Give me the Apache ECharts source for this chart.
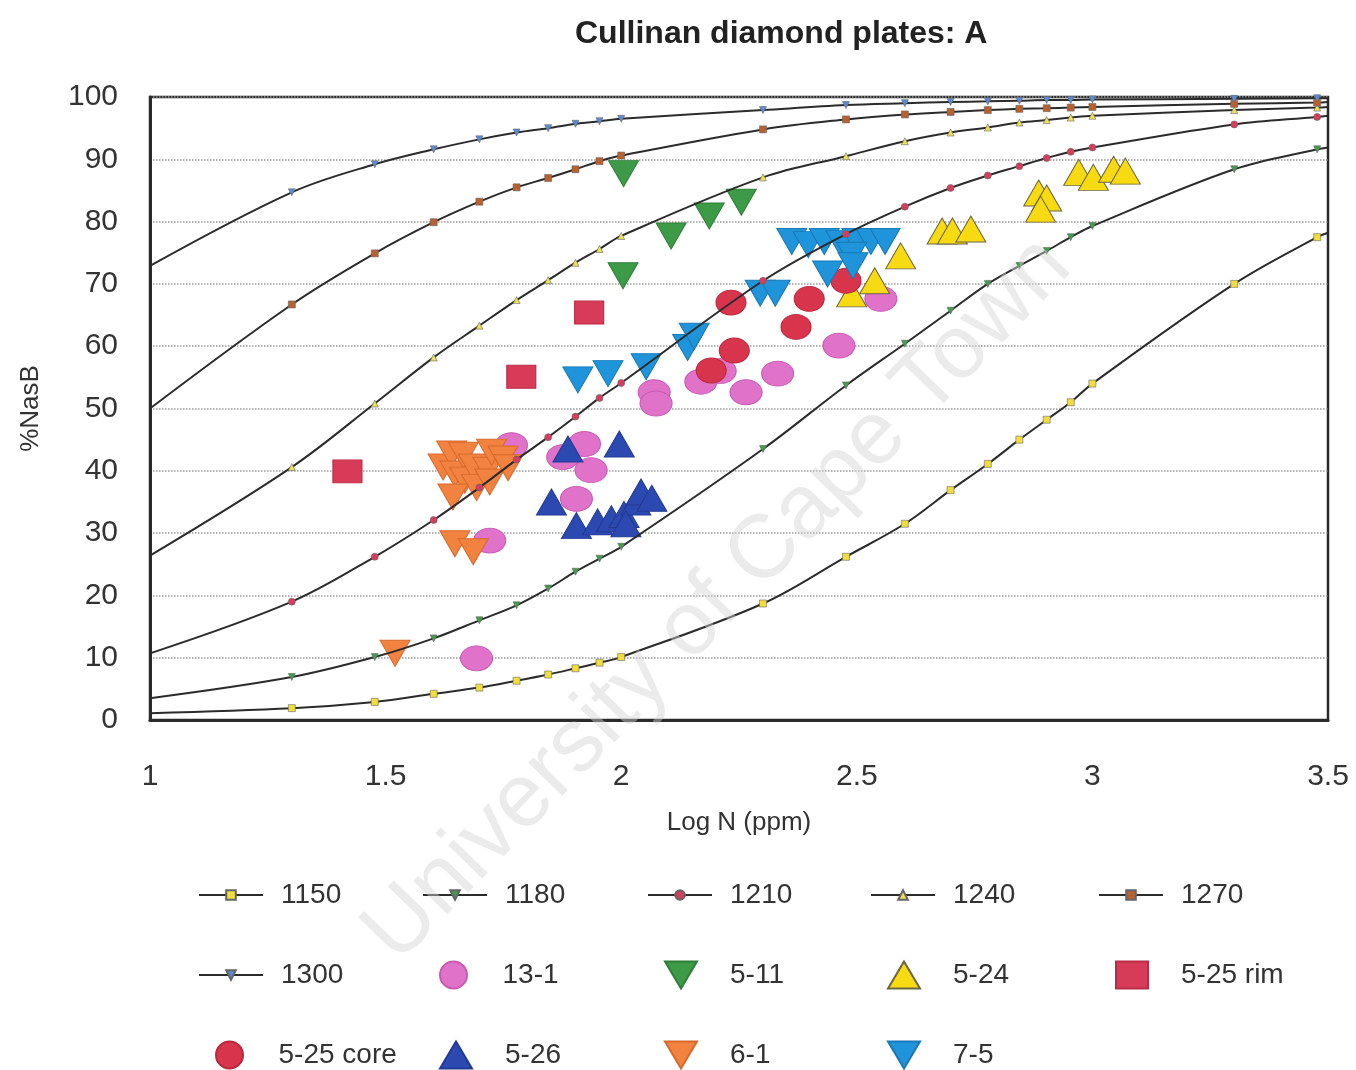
<!DOCTYPE html>
<html>
<head>
<meta charset="utf-8">
<title>Cullinan diamond plates: A</title>
<script src="https://cdn.jsdelivr.net/npm/echarts@6/dist/echarts.min.js"></script>
<style>
  html, body { margin: 0; padding: 0; background: #fff; }
  #chart { width: 1356px; height: 1070px; }
</style>
</head>
<body>
<div id="chart"></div>
<script>
// Log N (ppm) positions of the model points (N = 10, 20 ... 100, 200 ... 1000, 2000, 3000, end of axis)
const logN = [1, 1.301, 1.477, 1.602, 1.699, 1.778, 1.845, 1.903, 1.954, 2,
              2.301, 2.477, 2.602, 2.699, 2.778, 2.845, 2.903, 2.954, 3, 3.301, 3.477, 3.5];

// %NaB model curves for each temperature
const curve1150 = [1.1, 1.9, 2.9, 4.2, 5.2, 6.3, 7.3, 8.3, 9.2, 10.1, 18.7, 26.2, 31.5, 36.9, 41.1, 45.0, 48.2, 51.0, 54.0, 70.0, 77.5, 78.2];
const curve1180 = [3.5, 6.9, 10.1, 13.1, 16.0, 18.4, 21.1, 23.8, 25.9, 27.8, 43.5, 53.7, 60.4, 65.7, 70.0, 72.9, 75.3, 77.5, 79.3, 88.4, 91.6, 91.9];
const curve1210 = [10.7, 19.0, 26.2, 32.1, 37.3, 41.8, 45.4, 48.7, 51.7, 54.1, 70.5, 78.0, 82.4, 85.4, 87.4, 88.9, 90.2, 91.2, 91.9, 95.6, 96.8, 97.0];
const curve1240 = [26.4, 40.6, 50.8, 58.2, 63.3, 67.4, 70.6, 73.4, 75.6, 77.7, 87.1, 90.5, 92.9, 94.3, 95.1, 95.9, 96.3, 96.7, 97.0, 97.9, 98.3, 98.4];
const curve1270 = [50.0, 66.7, 74.9, 79.9, 83.2, 85.5, 87.0, 88.4, 89.7, 90.6, 94.8, 96.4, 97.2, 97.6, 97.9, 98.1, 98.2, 98.3, 98.4, 98.9, 99.1, 99.2];
const curve1300 = [72.9, 84.7, 89.2, 91.6, 93.2, 94.3, 95.0, 95.7, 96.1, 96.5, 97.9, 98.7, 99.0, 99.2, 99.3, 99.4, 99.5, 99.5, 99.6, 99.7, 99.8, 99.8];

// Measured plates: [Log N, %NaB]
const plate13_1 = [[1.693, 9.9], [1.721, 28.8], [1.767, 44.1], [1.876, 42.2], [1.922, 44.3], [1.936, 40.1],
                   [1.905, 35.5], [2.070, 52.6], [2.074, 50.8], [2.169, 54.3], [2.210, 56.0], [2.265, 52.6],
                   [2.332, 55.6], [2.462, 60.1], [2.551, 67.6]];
const plate5_11 = [[2.005, 87.7], [2.106, 77.7], [2.187, 80.9], [2.255, 83.1], [2.004, 71.3]];
const plate5_24 = [[2.489, 68.4], [2.538, 70.5], [2.593, 74.5], [2.681, 78.5], [2.703, 78.5], [2.742, 78.8],
                   [2.886, 84.6], [2.903, 83.8], [2.890, 82.0], [2.971, 87.9], [3.002, 87.1], [3.045, 88.4],
                   [3.070, 88.1]];
const plate5_25rim = [[1.419, 39.9], [1.788, 55.1], [1.932, 65.4]];
const plate5_25core = [[2.233, 67.0], [2.399, 67.6], [2.371, 63.1], [2.240, 59.3], [2.191, 56.1], [2.477, 70.5]];
const plate5_26 = [[1.887, 43.5], [1.996, 44.3], [1.852, 35.0], [1.905, 31.2], [1.950, 31.8], [1.979, 32.3],
                   [2.006, 33.0], [2.031, 35.0], [2.042, 36.6], [2.065, 35.6], [2.010, 31.5]];
const plate6_1 = [[1.622, 40.6], [1.640, 42.7], [1.647, 39.5], [1.665, 42.5], [1.668, 38.5], [1.686, 40.6],
                  [1.693, 37.3], [1.717, 40.1], [1.721, 38.2], [1.725, 43.0], [1.749, 41.9], [1.760, 40.5],
                  [1.643, 35.8], [1.647, 28.3], [1.686, 27.0], [1.520, 10.7]];
const plate7_5 = [[1.908, 54.6], [1.972, 55.6], [2.053, 56.7], [2.141, 59.8], [2.155, 61.6], [2.295, 68.5],
                  [2.327, 68.5], [2.362, 76.8], [2.397, 76.3], [2.431, 76.8], [2.466, 76.5], [2.500, 76.8],
                  [2.530, 76.8], [2.560, 76.8], [2.489, 74.6], [2.492, 72.9], [2.438, 71.6]];

const xTicks = { min: 1, max: 3.5, interval: 0.5 };
const yTicks = { min: 0, max: 100, interval: 10 };

const FONT = '"Liberation Sans", Arial, sans-serif';
const DOWN_TRIANGLE = 'path://M0,0 L20,0 L10,18 Z';

// Model curve series: small coloured markers at each modelled N, none at the axis ends
function curveSeries(name, values, symbol, rotate, color) {
  const last = logN.length - 1;
  return {
    name: name,
    type: 'line',
    z: 5,
    smooth: 0.35,
    symbol: symbol,
    symbolRotate: rotate,
    symbolSize: 7,
    showAllSymbol: true,
    lineStyle: { color: '#2b2b2b', width: 2 },
    itemStyle: { color: color, borderColor: '#666', borderWidth: 0.6 },
    emphasis: { disabled: true },
    data: logN.map((x, i) => {
      const item = { value: [x, values[i]] };
      if (i === 0 || i === last) item.symbol = 'none';
      return item;
    })
  };
}

function plateSeries(name, data, symbol, rotate, size, color, border) {
  return {
    name: name,
    type: 'scatter',
    z: 3,
    symbol: symbol,
    symbolRotate: rotate,
    symbolSize: size,
    itemStyle: { color: color, borderColor: border, borderWidth: 1, opacity: 1 },
    emphasis: { disabled: true },
    data: data
  };
}

const series = [
  curveSeries('1150', curve1150, 'rect', 0, '#f1de3c'),
  curveSeries('1180', curve1180, 'triangle', 180, '#3f9d4b'),
  curveSeries('1210', curve1210, 'circle', 0, '#d63c5c'),
  curveSeries('1240', curve1240, 'triangle', 0, '#ece05a'),
  curveSeries('1270', curve1270, 'rect', 0, '#b9602f'),
  curveSeries('1300', curve1300, 'triangle', 180, '#5b8bd6'),
  plateSeries('13-1', plate13_1, 'circle', 0, [32, 25], '#e072c9', '#c85bb2'),
  plateSeries('5-11', plate5_11, 'triangle', 180, [30, 26], '#3d9b47', '#2f7e39'),
  plateSeries('5-24', plate5_24, 'triangle', 0, [30, 26], '#f7da12', '#6b6540'),
  plateSeries('5-25 rim', plate5_25rim, 'rect', 0, [29, 23], '#d83b57', '#b92c45'),
  plateSeries('5-25 core', plate5_25core, 'circle', 0, [30, 25], '#d8354d', '#b8283e'),
  plateSeries('5-26', plate5_26, 'triangle', 0, [30, 26], '#2c49b1', '#223a94'),
  plateSeries('6-1', plate6_1, 'triangle', 180, [30, 26], '#f2823f', '#d66a2c'),
  plateSeries('7-5', plate7_5, 'triangle', 180, [30, 26], '#1f94da', '#1879b6')
];

// Legend laid out as a 5-column grid under the plot
const colTextX = [275, 499, 724, 947, 1175];
const rowCenterY = [890, 970, 1050];
const legends = series.map((s, i) => {
  const col = i % 5, row = Math.floor(i / 5);
  const isCurve = s.type === 'line';
  const iw = isCurve ? 64 : 32;
  const gap = isCurve ? 18 : 33;
  const item = { name: s.name };
  if (!isCurve && s.symbolRotate === 180) item.icon = DOWN_TRIANGLE;
  return {
    data: [item],
    left: colTextX[col] - gap - iw,
    top: rowCenterY[row] - 17,
    orient: 'horizontal',
    selectedMode: false,
    itemWidth: iw,
    itemHeight: isCurve ? 12 : 27,
    symbolKeepAspect: false,
    textStyle: {
      fontFamily: FONT, fontSize: 28, color: '#333',
      padding: [0, 0, 0, gap - 5], lineHeight: 34
    }
  };
});

const chart = echarts.init(document.getElementById('chart'), null, { renderer: 'canvas' });
chart.setOption({
  backgroundColor: '#fff',
  animation: false,
  title: {
    text: 'Cullinan diamond plates: A',
    left: 570,
    top: 13,
    textStyle: { fontFamily: FONT, fontSize: 32, fontWeight: 'bold', color: '#222' }
  },
  grid: {
    left: 150, right: 28, top: 97, bottom: 350,
    show: true, borderColor: '#2a2a2a', borderWidth: 2.5,
    outerBoundsMode: 'none'
  },
  xAxis: {
    type: 'value',
    min: xTicks.min, max: xTicks.max, interval: xTicks.interval,
    name: 'Log N (ppm)',
    nameLocation: 'middle',
    nameGap: 90,
    nameTextStyle: { fontFamily: FONT, fontSize: 26, color: '#333' },
    axisLine: { show: true, onZero: false, lineStyle: { color: '#2a2a2a', width: 3 } },
    axisTick: { show: false },
    axisLabel: { fontFamily: FONT, fontSize: 30, color: '#333', margin: 42 },
    splitLine: { show: false }
  },
  yAxis: {
    type: 'value',
    min: yTicks.min, max: yTicks.max, interval: yTicks.interval,
    name: '%NasB',
    nameLocation: 'middle',
    nameGap: 106,
    nameRotate: 90,
    nameTextStyle: { fontFamily: FONT, fontSize: 26, color: '#333' },
    axisLine: { show: true, onZero: false, lineStyle: { color: '#2a2a2a', width: 3 } },
    axisTick: { show: false },
    axisLabel: { fontFamily: FONT, fontSize: 30, color: '#333', margin: 32 },
    splitLine: { show: true, lineStyle: { type: 'dotted', color: '#9a9a9a', width: 1.5 } }
  },
  legend: legends,
  graphic: [{
    type: 'text',
    z: 100,
    silent: true,
    x: 718,
    y: 600,
    rotation: 0.80,
    style: {
      text: 'University of Cape Town',
      fontFamily: FONT,
      fontSize: 90,
      fill: 'rgba(210,210,210,0.45)',
      align: 'center',
      verticalAlign: 'middle'
    }
  }],
  series: series
});
</script>
</body>
</html>
